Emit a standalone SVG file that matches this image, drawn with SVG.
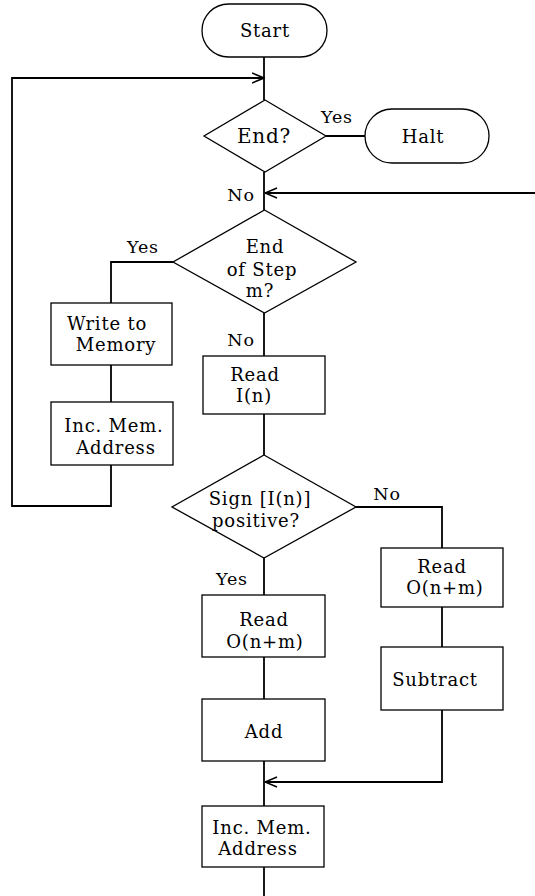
<svg xmlns="http://www.w3.org/2000/svg" width="535" height="896" viewBox="0 0 535 896">
<style>
.shape{fill:#fff;stroke:#000;stroke-width:1.3}
.conn{fill:none;stroke:#000;stroke-width:1.8}
text{font-family:"DejaVu Serif","Liberation Serif",serif;font-size:18px;letter-spacing:0.8px;fill:#000;text-anchor:middle}
.lbl{font-size:17.5px}
</style>
<defs>
<marker id="arr" markerUnits="userSpaceOnUse" viewBox="0 0 13 12" refX="12.5" refY="6" markerWidth="13" markerHeight="12" orient="auto">
<path d="M0.5,1 L12.5,6 L0.5,11" fill="none" stroke="#000" stroke-width="1.6"/>
</marker>
</defs>
<rect width="535" height="896" fill="#fff"/>
<g id="connectors">
<line class="conn" x1="264" y1="57" x2="264" y2="100"/>
<polyline class="conn" points="111,465 111,506 12,506 12,78 264,78" marker-end="url(#arr)"/>
<line class="conn" x1="326" y1="136" x2="365" y2="136"/>
<line class="conn" x1="264" y1="172" x2="264" y2="210"/>
<line class="conn" x1="535" y1="193" x2="265" y2="193" marker-end="url(#arr)"/>
<polyline class="conn" points="173,262 111,262 111,303"/>
<line class="conn" x1="111" y1="365" x2="111" y2="402"/>
<line class="conn" x1="264" y1="313" x2="264" y2="356"/>
<line class="conn" x1="264" y1="414" x2="264" y2="455"/>
<polyline class="conn" points="356,507 442,507 442,548"/>
<line class="conn" x1="442" y1="607" x2="442" y2="647"/>
<polyline class="conn" points="442,710 442,782 265,782" marker-end="url(#arr)"/>
<line class="conn" x1="264" y1="558" x2="264" y2="595"/>
<line class="conn" x1="264" y1="657" x2="264" y2="699"/>
<line class="conn" x1="264" y1="761" x2="264" y2="806"/>
<line class="conn" x1="264" y1="867" x2="264" y2="896"/>
<text class="lbl" x="337" y="123">Yes</text>
<text class="lbl" x="241" y="201">No</text>
<text class="lbl" x="143" y="253">Yes</text>
<text class="lbl" x="241" y="346">No</text>
<text class="lbl" x="387" y="500">No</text>
<text class="lbl" x="232" y="585">Yes</text>
</g>
<g id="start">
<rect class="shape" x="202" y="4" width="125" height="53" rx="26.5"/>
<text x="265" y="37">Start</text>
</g>
<g id="end">
<polygon class="shape" points="265,100 326,136 265,172 204,136"/>
<text x="264" y="143" style="font-size:20px">End?</text>
</g>
<g id="halt">
<rect class="shape" x="365" y="109" width="124" height="54" rx="27"/>
<text x="423" y="143">Halt</text>
</g>
<g id="endofstep">
<polygon class="shape" points="264.5,210 356,262 264.5,313 173,262"/>
<text x="265" y="253">End</text>
<text x="262" y="276">of Step</text>
<text x="260" y="297">m?</text>
</g>
<g id="write">
<rect class="shape" x="51" y="303" width="121" height="62"/>
<text x="107" y="330">Write to</text>
<text x="116" y="351">Memory</text>
</g>
<g id="incmem1">
<rect class="shape" x="51" y="402" width="122" height="63"/>
<text x="114" y="432">Inc. Mem.</text>
<text x="116" y="454">Address</text>
</g>
<g id="readin">
<rect class="shape" x="203" y="356" width="122" height="58"/>
<text x="255" y="381">Read</text>
<text x="254" y="402">I(n)</text>
</g>
<g id="sign">
<polygon class="shape" points="264,455 356,507 264,558 172,507"/>
<text x="260" y="505">Sign [I(n)]</text>
<text x="256" y="527">positive?</text>
</g>
<g id="readoright">
<rect class="shape" x="381" y="548" width="122" height="59"/>
<text x="442" y="573">Read</text>
<text x="445" y="594">O(n+m)</text>
</g>
<g id="subtract">
<rect class="shape" x="381" y="647" width="122" height="63"/>
<text x="435" y="686">Subtract</text>
</g>
<g id="readoleft">
<rect class="shape" x="202" y="595" width="123" height="62"/>
<text x="264" y="626">Read</text>
<text x="265" y="648">O(n+m)</text>
</g>
<g id="add">
<rect class="shape" x="202" y="699" width="123" height="62"/>
<text x="264" y="738">Add</text>
</g>
<g id="incmem2">
<rect class="shape" x="202" y="806" width="122" height="61"/>
<text x="262" y="834">Inc. Mem.</text>
<text x="258" y="855">Address</text>
</g>
</svg>
